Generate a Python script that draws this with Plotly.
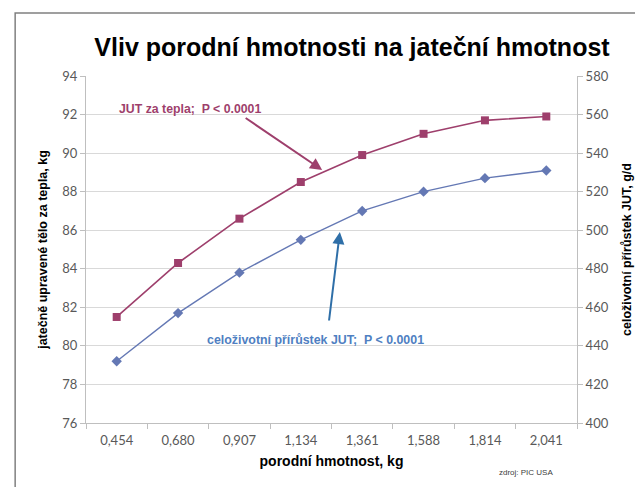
import plotly.graph_objects as go

categories = ["0,454", "0,680", "0,907", "1,134", "1,361", "1,588", "1,814", "2,041"]
jut_za_tepla = [81.5, 84.3, 86.6, 88.5, 89.9, 91.0, 91.7, 91.9]          # kg, left axis
celozivotni_prirustek = [432, 457, 478, 495, 510, 520, 527, 531]       # g/d, right axis
left_ticks = [76, 78, 80, 82, 84, 86, 88, 90, 92, 94]
right_ticks = [400, 420, 440, 460, 480, 500, 520, 540, 560, 580]

OFF = 8  # default body margin of the html page
W, H = 643 - OFF, 487 - OFF
L, R, T, B = 86, 585, 76, 423   # plot area in window pixels

def px(x):
    return (x - L) / (R - L)

def py(y):
    return (B - y) / (B - T)

RED = "#9E3F6C"
BLUE = "#6478B4"
ARROW_BLUE = "#2F6FA8"
TXT_BLUE = "#4F7FC2"
TICK = "#595959"
FONT = "Liberation Sans, Arial"

fig = go.Figure()
fig.add_trace(go.Scatter(
    x=categories, y=jut_za_tepla, mode="lines+markers", name="JUT za tepla",
    line=dict(color=RED, width=1.6),
    marker=dict(symbol="square", size=8, color=RED),
    yaxis="y"))
fig.add_trace(go.Scatter(
    x=categories, y=celozivotni_prirustek, mode="lines+markers", name="celoživotní přírůstek JUT",
    line=dict(color=BLUE, width=1.4),
    marker=dict(symbol="diamond", size=8, color=BLUE),
    yaxis="y2"))

fig.update_layout(
    width=W, height=H,
    margin=dict(l=L - OFF, r=W - (R - OFF), t=T - OFF, b=H - (B - OFF)),
    paper_bgcolor="white", plot_bgcolor="white",
    showlegend=False,
    title=dict(text="<b>Vliv porodní hmotnosti na jateční hmotnost</b>",
               font=dict(family=FONT, size=25, color="black"),
               x=(352 - OFF) / W, xanchor="center", y=1 - (47 - OFF) / H, yanchor="middle"),
    xaxis=dict(type="category", categoryorder="array", categoryarray=categories,
               showgrid=False, showline=True, linecolor="#BFBFBF", linewidth=1,
               ticks="outside", ticklen=5, tickcolor="#BFBFBF", tickson="boundaries",
               ticklabelstandoff=5,
               tickfont=dict(family="Lato", size=13, color=TICK),
               title=dict(text="<b>porodní hmotnost, kg</b>", standoff=9,
                          font=dict(family=FONT, size=14, color="black")),
               range=[-0.5, 7.5], zeroline=False),
    yaxis=dict(range=[76, 94], tickvals=left_ticks, showgrid=True, gridcolor="#D9D9D9", gridwidth=1,
               showline=True, linecolor="#BFBFBF", linewidth=1,
               ticks="outside", ticklen=5, tickcolor="#BFBFBF",
               tickfont=dict(family="Lato", size=13, color=TICK),
               title=dict(text="<b>jatečně upravené tělo za tepla, kg</b>", standoff=11,
                          font=dict(family=FONT, size=12.5, color="black")),
               zeroline=False),
    yaxis2=dict(range=[400, 580], tickvals=right_ticks, overlaying="y", side="right",
                showgrid=False, showline=True, linecolor="#BFBFBF", linewidth=1,
                ticks="outside", ticklen=5, tickcolor="#BFBFBF",
                tickfont=dict(family="Lato", size=13, color=TICK),
                title=dict(text="<b>celoživotní přírůstek JUT, g/d</b>", standoff=14,
                           font=dict(family=FONT, size=12.5, color="black")),
                zeroline=False),
)

# Outer chart frame (clipped by the window on the right and bottom)
fig.add_shape(type="rect", xref="paper", yref="paper",
              x0=px(14), x1=px(700), y0=py(540), y1=py(13),
              line=dict(color="#808080", width=1.5), fillcolor="rgba(0,0,0,0)", layer="below")

# Series labels with arrows
fig.add_annotation(xref="paper", yref="paper", x=px(117), y=py(109), xanchor="left", yanchor="middle",
                   text="<b>JUT za tepla;  P < 0.0001</b>", showarrow=False,
                   font=dict(family=FONT, size=12.3, color=RED))
fig.add_annotation(xref="paper", yref="paper", x=px(326), y=py(170), ax=248 - 326, ay=117 - 170,
                   axref="pixel", ayref="pixel", text="", showarrow=True,
                   arrowhead=2, arrowsize=1.2, arrowwidth=2, arrowcolor=RED)
fig.add_annotation(xref="paper", yref="paper", x=px(207), y=py(340), xanchor="left", yanchor="middle",
                   text="<b>celoživotní přírůstek JUT;  P < 0.0001</b>", showarrow=False,
                   font=dict(family=FONT, size=12.4, color=TXT_BLUE))
fig.add_annotation(xref="paper", yref="paper", x=px(344), y=py(232), ax=333 - 344, ay=322 - 232,
                   axref="pixel", ayref="pixel", text="", showarrow=True,
                   arrowhead=2, arrowsize=1.2, arrowwidth=2, arrowcolor=ARROW_BLUE)
fig.add_annotation(xref="paper", yref="paper", x=px(533), y=py(472), xanchor="center", yanchor="middle",
                   text="zdroj: PIC USA", showarrow=False,
                   font=dict(family=FONT, size=8, color="#404040"))

fig.write_html("out.html")
